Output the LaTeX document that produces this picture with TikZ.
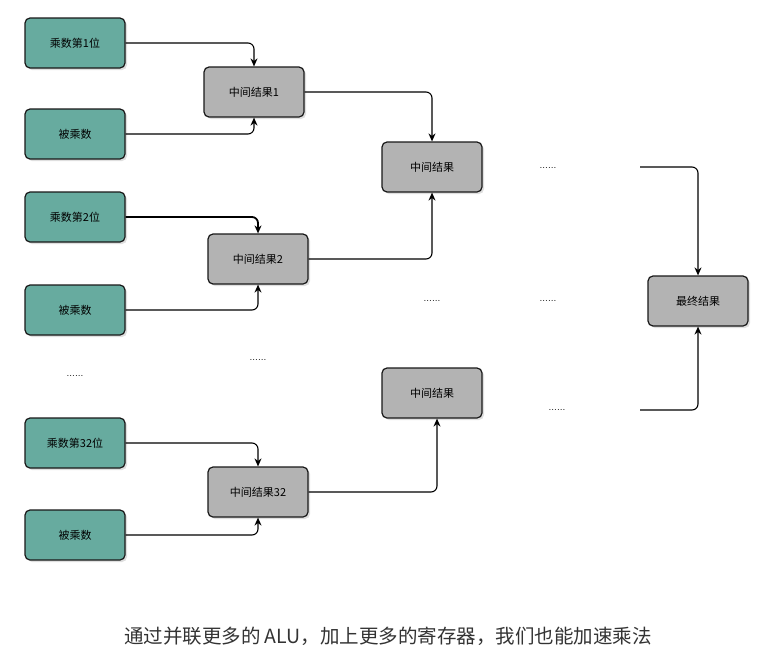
\documentclass[tikz,border=0pt]{standalone}
\usepackage{fontspec}
\newfontfamily\cjk{Noto Sans CJK SC}
\usetikzlibrary{shadows, arrows.meta}

\tikzset{
  box/.style={draw=black!90, line width=1.2pt, rounded corners=5pt,
    minimum width=100pt, minimum height=50pt, font=\cjk\fontsize{11}{13}\selectfont,
    drop shadow={shadow xshift=2pt, shadow yshift=-2pt, opacity=0.25}},
  inbox/.style={box, fill={rgb,255:red,103;green,171;blue,159}},
  midbox/.style={box, fill={rgb,255:red,179;green,179;blue,179}},
  link/.style={-{Stealth[length=8pt, width=7pt]}, line width=1.1pt, rounded corners=6pt},
  dots/.style={font=\fontsize{10}{12}\selectfont}
}

\begin{document}
\begin{tikzpicture}[x=1pt, y=-1pt]
    \useasboundingbox (0,0) rectangle (760,653);

    % inputs
    \node[inbox] (m1) at (75,43) {乘数第1位};
    \node[inbox] (b1) at (75,134) {被乘数};
    \node[inbox] (m2) at (75,217) {乘数第2位};
    \node[inbox] (b2) at (75,310) {被乘数};
    \node[inbox] (m32) at (75,443) {乘数第32位};
    \node[inbox] (b32) at (75,535) {被乘数};

    % partial results
    \node[midbox] (r1) at (254,92) {中间结果1};
    \node[midbox] (r2) at (258,259) {中间结果2};
    \node[midbox] (r32) at (258,492) {中间结果32};
    \node[midbox] (ra) at (432,167) {中间结果};
    \node[midbox] (rb) at (432,393) {中间结果};
    \node[midbox] (fin) at (698,301) {最终结果};

    % dots
    \node[dots] (d1) at (548,168) {......};
    \node[dots] (d2) at (432,301) {......};
    \node[dots] (d3) at (548,301) {......};
    \node[dots] (d4) at (258,360) {......};
    \node[dots] (d5) at (75,376) {......};
    \node[dots] (d6) at (557,410) {......};

    \coordinate (ua) at (640,167);
    \coordinate (ub) at (640,410);

    % connectors
    \draw[link] (m1.east) -| (r1.north);
    \draw[link] (b1.east) -| (r1.south);
    \draw[link, line width=1.8pt] (m2.east) -| (r2.north);
    \draw[link] (b2.east) -| (r2.south);
    \draw[link] (m32.east) -| (r32.north);
    \draw[link] (b32.east) -| (r32.south);
    \draw[link] (r1.east) -| (ra.north);
    \draw[link] (r2.east) -| (ra.south);
    \draw[link] (r32.east) -| ([xshift=5pt]rb.south);
    \draw[link] (ua) -| (fin.north);
    \draw[link] (ub) -| (fin.south);

    \node[font=\cjk\fontsize{19.5}{22}\selectfont, text=black!80] (cap) at (388,636)
      {通过并联更多的 ALU，加上更多的寄存器，我们也能加速乘法};
\end{tikzpicture}
\end{document}
